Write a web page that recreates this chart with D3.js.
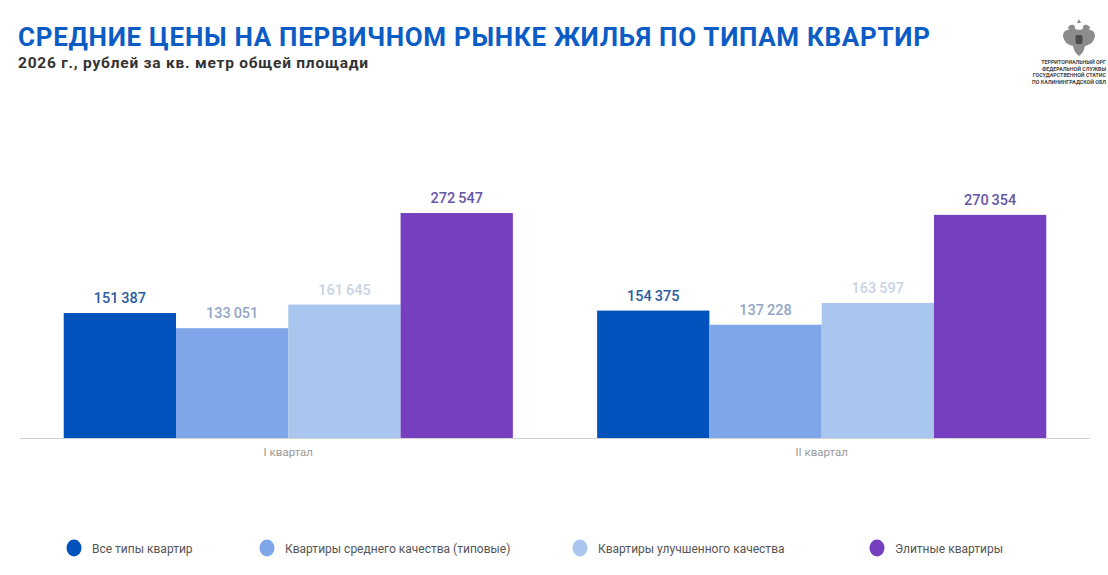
<!DOCTYPE html>
<html>
<head>
<meta charset="utf-8">
<script src="https://cdn.jsdelivr.net/npm/d3@7"></script>
<style>
  body { margin: 0; background: #fff; }
  svg text { font-family: Roboto, "Noto Sans", sans-serif; }
</style>
</head>
<body>
<div id="chart"></div>
<script>
// data
var quarters = ["I квартал", "II квартал"];
var seriesNames = ["Все типы квартир", "Квартиры среднего качества (типовые)", "Квартиры улучшенного качества", "Элитные квартиры"];
var allTypes = [151387, 154375];
var standard = [133051, 137228];
var improved = [161645, 163597];
var elite = [272547, 270354];
var seriesValues = [allTypes, standard, improved, elite];

var barColors = ["#0252bd", "#7fa6e9", "#a9c6ee", "#763fc0"];
var labelColors = ["#2c5d9e", "#93a6c6", "#c8d3e4", "#6656a9"];

var W = 1108, H = 575;
var svg = d3.select("#chart").append("svg").attr("width", W).attr("height", H);

// titles
svg.append("text").attr("x", 18).attr("y", 46)
  .style("font-size", "26px").style("font-weight", 700).style("fill", "#0b5cc4")
  .attr("textLength", 912)
  .text("СРЕДНИЕ ЦЕНЫ НА ПЕРВИЧНОМ РЫНКЕ ЖИЛЬЯ ПО ТИПАМ КВАРТИР");
svg.append("text").attr("x", 18).attr("y", 68)
  .style("font-size", "15.5px").style("font-weight", 700).style("fill", "#333")
  .attr("textLength", 350)
  .text("2026 г., рублей за кв. метр общей площади");

// logo (simplified emblem + caption)
var logo = svg.append("g").attr("transform", "translate(1079,38)");
logo.append("path")
  .attr("d", "M-2,-15 L0,-19 L2,-15 Z M-10,-12 C-6,-15 -3,-12 -4,-9 C-2,-8 2,-8 4,-9 C3,-12 6,-15 10,-12 C12,-10 10,-8 8,-8 C12,-9 16,-7 16,-2 C15,4 11,7 6,8 C5,13 3,16 0,18 C-3,16 -5,13 -6,8 C-11,7 -15,4 -16,-2 C-16,-7 -12,-9 -8,-8 C-10,-8 -12,-10 -10,-12 Z")
  .style("fill", "#8c8c8c");
logo.append("rect").attr("x", -3.5).attr("y", -3).attr("width", 7).attr("height", 9).attr("rx", 2).style("fill", "#4a4a4a");
var capLines = ["ТЕРРИТОРИАЛЬНЫЙ ОРГ", "ФЕДЕРАЛЬНОЙ СЛУЖБЫ", "ГОСУДАРСТВЕННОЙ СТАТИС", "ПО КАЛИНИНГРАДСКОЙ ОБЛ"];
svg.selectAll(".cap").data(capLines).enter().append("text")
  .attr("class", "cap")
  .attr("x", 1106)
  .attr("y", function(d, i) { return 64 + i * 6.5; })
  .attr("text-anchor", "end")
  .style("font-size", "5.3px").style("font-weight", 700).style("fill", "#444")
  .text(function(d) { return d; });

// scales
var x0 = d3.scaleBand().domain(quarters).range([20, 1090]).paddingInner(0.158).paddingOuter(0.082);
var x1 = d3.scaleBand().domain(d3.range(seriesNames.length)).range([0, x0.bandwidth()]).padding(0);
var y = d3.scaleLinear().domain([0, 300000]).range([438, 190.4]);

var fmt = function(v) { return d3.format(",")(v).replace(/,/g, "\u2009"); };

var groups = svg.selectAll(".grp").data(quarters).enter().append("g")
  .attr("class", "grp")
  .attr("transform", function(d) { return "translate(" + x0(d) + ",0)"; });

groups.each(function(q, qi) {
  var g = d3.select(this);
  var vals = seriesValues.map(function(s, si) { return { si: si, v: s[qi] }; });
  g.selectAll("rect").data(vals).enter().append("rect")
    .attr("x", function(d) { return x1(d.si); })
    .attr("y", function(d) { return y(d.v); })
    .attr("width", x1.bandwidth())
    .attr("height", function(d) { return y(0) - y(d.v); })
    .style("fill", function(d) { return barColors[d.si]; });
  g.selectAll("text.lbl").data(vals).enter().append("text")
    .attr("class", "lbl")
    .attr("x", function(d) { return x1(d.si) + x1.bandwidth() / 2; })
    .attr("y", function(d) { return y(d.v) - 10; })
    .attr("text-anchor", "middle")
    .style("font-size", "14.5px").style("font-weight", 500)
    .style("fill", function(d) { return labelColors[d.si]; })
    .text(function(d) { return fmt(d.v); });
});

// x axis
var xAxis = svg.append("g").attr("transform", "translate(0," + y(0) + ")")
  .call(d3.axisBottom(x0).tickSize(0).tickPadding(10));
xAxis.select(".domain").attr("d", "M20,0.5H1090").style("stroke", "#d0d0d0");
xAxis.selectAll("text").style("font-size", "11.5px").style("fill", "#999")
  .style("font-family", "Roboto, sans-serif");

// legend
var legX = [74, 267, 580, 877];
var leg = svg.selectAll(".leg").data(seriesNames).enter().append("g")
  .attr("class", "leg")
  .attr("transform", function(d, i) { return "translate(" + legX[i] + ",548)"; });
leg.append("ellipse").attr("rx", 7.5).attr("ry", 8.5)
  .style("fill", function(d, i) { return barColors[i]; });
leg.append("text").attr("x", 18).attr("y", 4.5)
  .style("font-size", "12px").style("fill", "#555")
  .text(function(d) { return d; });
</script>
</body>
</html>
